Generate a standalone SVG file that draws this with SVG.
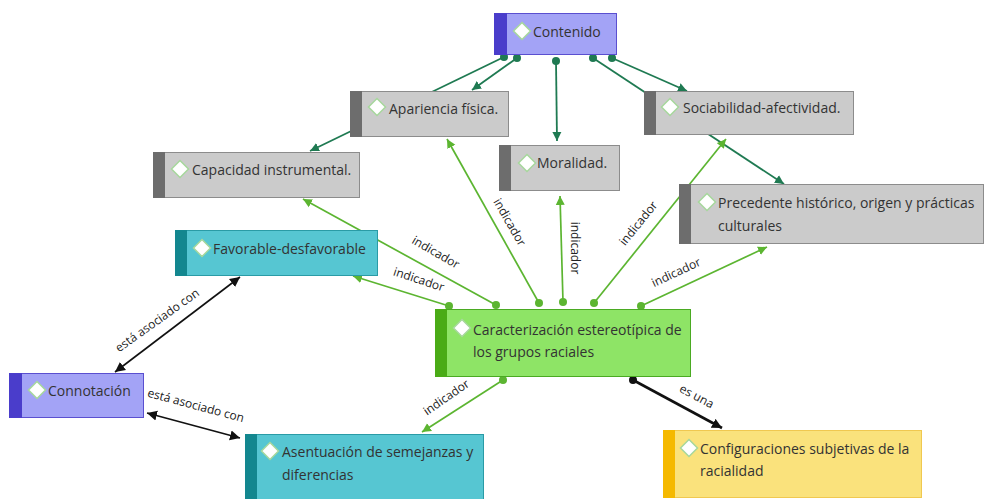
<svg xmlns="http://www.w3.org/2000/svg" width="985" height="499" viewBox="0 0 985 499">
<style>
.nt{font-family:"Open Sans","Noto Sans","Liberation Sans",sans-serif;font-size:14px;fill:#333333}
.lb{font-family:"Open Sans","Noto Sans","Liberation Sans",sans-serif;font-size:12px;fill:#222222;text-anchor:middle;dominant-baseline:central}
.dg{stroke:#1f7a52;stroke-width:1.8;fill:none}
.lg{stroke:#5cb531;stroke-width:1.7;fill:none}
.bk{stroke:#111111;stroke-width:1.6;fill:none}
.dia{fill:#ffffff;stroke:#a6d79c;stroke-width:1.5}
.grey .bg{fill:#cbcbcb;stroke:#8c8c8c}
.grey .bar{fill:#6d6d6d}
.purp .bg{fill:#a3a3f6;stroke:#5a4fd0}
.purp .bar{fill:#4a3dcb}
.cyan .bg{fill:#56c6d2;stroke:#2a9ba6}
.cyan .bar{fill:#13878f}
.green .bg{fill:#8ee466;stroke:#4aaa22}
.green .bar{fill:#4aab16}
.yel .bg{fill:#fae27c;stroke:#f0c850}
.yel .bar{fill:#f5b900}
</style>
<defs>
<marker id="adg" markerUnits="userSpaceOnUse" markerWidth="10" markerHeight="10" refX="9" refY="5" orient="auto"><path d="M0,0.5 L9,5 L0,9.5 z" fill="#1f7a52"/></marker>
<marker id="alg" markerUnits="userSpaceOnUse" markerWidth="10" markerHeight="10" refX="9" refY="5" orient="auto"><path d="M0,0.5 L9,5 L0,9.5 z" fill="#5cb531"/></marker>
<marker id="abk" markerUnits="userSpaceOnUse" markerWidth="11" markerHeight="11" refX="10" refY="5.5" orient="auto-start-reverse"><path d="M0,0.5 L10,5.5 L0,10.5 z" fill="#111111"/></marker>
</defs>
<rect width="985" height="499" fill="#ffffff"/>
<g id="connectors">
<line class="dg" x1="504" y1="57" x2="310" y2="151" marker-end="url(#adg)"/>
<line class="dg" x1="517" y1="58" x2="472" y2="90" marker-end="url(#adg)"/>
<line class="dg" x1="556" y1="61" x2="557" y2="141" marker-end="url(#adg)"/>
<line class="dg" x1="593" y1="58" x2="784" y2="184" marker-end="url(#adg)"/>
<line class="dg" x1="612" y1="58" x2="687" y2="91" marker-end="url(#adg)"/>
<g fill="#1f7a52"><circle cx="504" cy="57" r="4"/><circle cx="517" cy="58" r="4"/><circle cx="556" cy="61" r="4"/><circle cx="593" cy="58" r="4"/><circle cx="612" cy="58" r="4"/></g>
<line class="lg" x1="449" y1="306" x2="353" y2="276" marker-end="url(#alg)"/>
<line class="lg" x1="496" y1="305" x2="303" y2="199" marker-end="url(#alg)"/>
<line class="lg" x1="539" y1="303" x2="447" y2="139" marker-end="url(#alg)"/>
<line class="lg" x1="563" y1="302" x2="560" y2="196" marker-end="url(#alg)"/>
<line class="lg" x1="594" y1="303" x2="726" y2="139" marker-end="url(#alg)"/>
<line class="lg" x1="641" y1="306" x2="767" y2="247" marker-end="url(#alg)"/>
<line class="lg" x1="503" y1="380" x2="422" y2="432" marker-end="url(#alg)"/>
<g fill="#5cb531"><circle cx="449" cy="306" r="4"/><circle cx="496" cy="305" r="4"/><circle cx="539" cy="303" r="4"/><circle cx="563" cy="302" r="4"/><circle cx="594" cy="303" r="4"/><circle cx="641" cy="306" r="4"/><circle cx="503" cy="380" r="4"/></g>
<line x1="633" y1="380" x2="722" y2="428" stroke="#111111" stroke-width="2.6" marker-end="url(#abk)"/>
<circle cx="633" cy="380" r="4" fill="#111111"/>
<line class="bk" x1="240" y1="277" x2="115" y2="372" marker-start="url(#abk)" marker-end="url(#abk)"/>
<line class="bk" x1="147" y1="413" x2="240" y2="438" marker-start="url(#abk)" marker-end="url(#abk)"/>
<text class="lb" transform="translate(419,279) rotate(18)">indicador</text>
<text class="lb" transform="translate(436,252) rotate(30)">indicador</text>
<text class="lb" transform="translate(510,222) rotate(60)">indicador</text>
<text class="lb" transform="translate(575,248) rotate(90)">indicador</text>
<text class="lb" transform="translate(638,223) rotate(-51)">indicador</text>
<text class="lb" transform="translate(676,272) rotate(-25)">indicador</text>
<text class="lb" transform="translate(446,397) rotate(-35)">indicador</text>
<text class="lb" transform="translate(697,396) rotate(28)">es una</text>
<text class="lb" transform="translate(157,320) rotate(-35.5)">está asociado con</text>
<text class="lb" transform="translate(196,405) rotate(15)">está asociado con</text>
</g>
<g id="n-contenido" class="purp">
<rect class="bg" x="494.5" y="13.5" width="122" height="41"/><rect class="bar" x="494" y="13" width="13" height="42"/>
<path class="dia" d="M522,22.5 L530.5,31 L522,39.5 L513.5,31 z"/>
<text class="nt" x="533" y="37">Contenido</text>
</g>
<g id="n-apariencia" class="grey">
<rect class="bg" x="350.5" y="91.5" width="158" height="45"/><rect class="bar" x="350" y="91" width="12" height="46"/>
<path class="dia" d="M377,98.5 L385.5,107 L377,115.5 L368.5,107 z"/>
<text class="nt" x="389" y="114">Apariencia física.</text>
</g>
<g id="n-sociabilidad" class="grey">
<rect class="bg" x="644.5" y="91.5" width="209" height="43"/><rect class="bar" x="644" y="91" width="12" height="44"/>
<path class="dia" d="M670,98.5 L678.5,107 L670,115.5 L661.5,107 z"/>
<text class="nt" x="683" y="113">Sociabilidad-afectividad.</text>
</g>
<g id="n-moralidad" class="grey">
<rect class="bg" x="499.5" y="145.5" width="120" height="45"/><rect class="bar" x="499" y="145" width="12" height="46"/>
<path class="dia" d="M527,154.5 L535.5,163 L527,171.5 L518.5,163 z"/>
<text class="nt" x="537" y="168">Moralidad.</text>
</g>
<g id="n-capacidad" class="grey">
<rect class="bg" x="153.5" y="152.5" width="206" height="45"/><rect class="bar" x="153" y="152" width="12" height="46"/>
<path class="dia" d="M180,160.5 L188.5,169 L180,177.5 L171.5,169 z"/>
<text class="nt" x="192" y="175">Capacidad instrumental.</text>
</g>
<g id="n-precedente" class="grey">
<rect class="bg" x="679.5" y="184.5" width="304" height="59"/><rect class="bar" x="679" y="184" width="12" height="60"/>
<path class="dia" d="M707,193.5 L715.5,202 L707,210.5 L698.5,202 z"/>
<text class="nt" x="718" y="208">Precedente histórico, origen y prácticas</text>
<text class="nt" x="718" y="231">culturales</text>
</g>
<g id="n-favorable" class="cyan">
<rect class="bg" x="175.5" y="230.5" width="202" height="45"/><rect class="bar" x="175" y="230" width="12" height="46"/>
<path class="dia" d="M202,239.5 L210.5,248 L202,256.5 L193.5,248 z"/>
<text class="nt" x="213" y="254">Favorable-desfavorable</text>
</g>
<g id="n-caracterizacion" class="green">
<rect class="bg" x="435.5" y="309.5" width="255" height="67"/><rect class="bar" x="435" y="309" width="12" height="68"/>
<path class="dia" d="M462,319.5 L470.5,328 L462,336.5 L453.5,328 z"/>
<text class="nt" x="473" y="335">Caracterización estereotípica de</text>
<text class="nt" x="473" y="357">los grupos raciales</text>
</g>
<g id="n-connotacion" class="purp">
<rect class="bg" x="9.5" y="373.5" width="134" height="44"/><rect class="bar" x="9" y="373" width="13" height="45"/>
<path class="dia" d="M37,381.5 L45.5,390 L37,398.5 L28.5,390 z"/>
<text class="nt" x="48" y="396">Connotación</text>
</g>
<g id="n-asentuacion" class="cyan">
<rect class="bg" x="245.5" y="434.5" width="238" height="70"/><rect class="bar" x="245" y="434" width="12" height="70"/>
<path class="dia" d="M270,442.5 L278.5,451 L270,459.5 L261.5,451 z"/>
<text class="nt" x="282" y="457">Asentuación de semejanzas y</text>
<text class="nt" x="282" y="480">diferencias</text>
</g>
<g id="n-configuraciones" class="yel">
<rect class="bg" x="663.5" y="430.5" width="258" height="67"/><rect class="bar" x="663" y="430" width="12" height="68"/>
<path class="dia" d="M689,439.5 L697.5,448 L689,456.5 L680.5,448 z"/>
<text class="nt" x="700" y="454">Configuraciones subjetivas de la</text>
<text class="nt" x="700" y="476">racialidad</text>
</g>
</svg>
